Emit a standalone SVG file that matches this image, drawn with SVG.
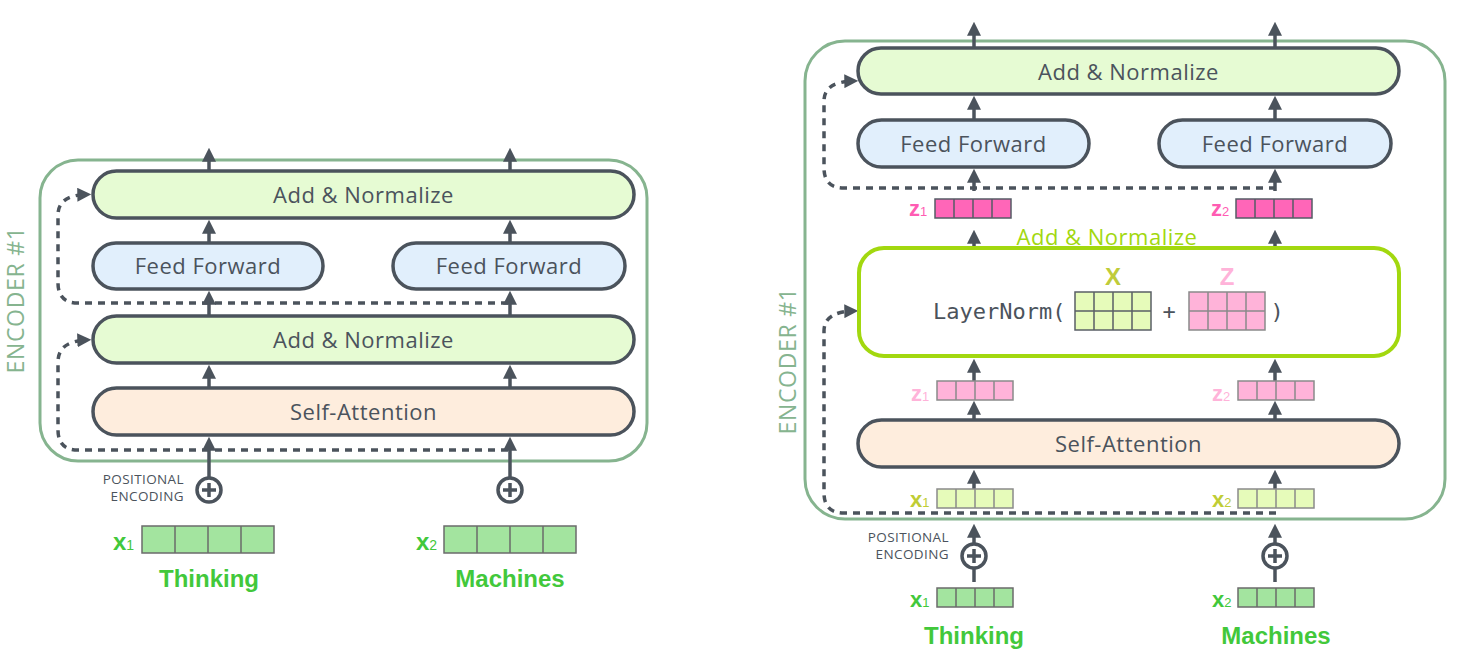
<svg xmlns="http://www.w3.org/2000/svg" width="1472" height="665" viewBox="0 0 1472 665">
  <style>
    .enc { fill: none; stroke: #86b48f; stroke-width: 3; }
    .enc-label { font-family: "Open Sans", "DejaVu Sans", sans-serif; font-size: 23px; letter-spacing: 0.7px; fill: #86b48f; text-anchor: middle; }
    .box { stroke: #4b535c; stroke-width: 3.5; }
    .an { fill: #e6fbd3; }
    .ff { fill: #e1effc; }
    .sa { fill: #feeddd; }
    .lbl { font-family: "Open Sans", "DejaVu Sans", sans-serif; font-size: 22px; letter-spacing: 0.5px; fill: #4b535c; text-anchor: middle; }
    .pos { font-family: "Open Sans", "DejaVu Sans", sans-serif; font-size: 13.5px; letter-spacing: 0.4px; fill: #4b535c; text-anchor: end; }
    .solid { stroke: #4b535c; stroke-width: 3.5; fill: none; marker-end: url(#head); }
    .dash { stroke: #4b535c; stroke-width: 3.5; fill: none; stroke-dasharray: 7 6; marker-end: url(#head); }
    .plus { fill: #fff; stroke: #4b535c; stroke-width: 3.5; }
    .plus-bar { stroke: #4b535c; stroke-width: 3.5; }
    .word { font-family: "Liberation Sans", Arial, sans-serif; font-weight: bold; font-size: 24px; fill: #42c83b; text-anchor: middle; }
    .var { font-family: "Liberation Sans", Arial, sans-serif; font-weight: bold; }
    .sub { font-weight: normal; }
    .in-vec { fill: #a3e49f; stroke: #6b6b6b; stroke-width: 1.5; }
    .x-vec { fill: #e6fbba; stroke: #8a8a8a; stroke-width: 1.5; }
    .z-vec { fill: #ffb3d9; stroke: #8a8a8a; stroke-width: 1.5; }
    .zh-vec { fill: #ff66b8; stroke: #555c66; stroke-width: 1.5; }
    .x-mat { fill: #e6fbba; stroke: #5a5f66; stroke-width: 1.5; }
    .z-mat { fill: #ffb3d9; stroke: #8a8a8a; stroke-width: 1.5; }
    .ln { fill: #fff; stroke: #a2d80f; stroke-width: 4; }
    .ln-title { fill: #a2d80f; }
    .mono { font-family: "DejaVu Sans Mono", "Liberation Mono", monospace; font-size: 22px; fill: #4b535c; }
  </style>
  <defs>
    <marker id="head" markerUnits="userSpaceOnUse" markerWidth="14" markerHeight="14" viewBox="0 0 13 13" refX="9" refY="6.5" orient="auto">
      <path d="M0,0 L13,6.5 L0,13 z" fill="#4b535c"/>
    </marker>
    <!-- four-cell row vectors and a 2x4 matrix -->
    <g id="vecL">
      <rect x="0" y="0" width="132" height="27"/>
      <path d="M33,0 V27 M66,0 V27 M99,0 V27"/>
    </g>
    <g id="vecS">
      <rect x="0" y="0" width="76" height="19"/>
      <path d="M19,0 V19 M38,0 V19 M57,0 V19"/>
    </g>
    <g id="mat">
      <rect x="0" y="0" width="76" height="38"/>
      <path d="M19,0 V38 M38,0 V38 M57,0 V38 M0,19 H76"/>
    </g>
  </defs>

  <rect width="1472" height="665" fill="#fff"/>

  <!-- ===== Left: encoder overview ===== -->
  <g id="encoder-a">
    <rect class="enc" x="40" y="160" width="607" height="301" rx="38"/>
    <text class="enc-label" transform="translate(24,300) rotate(-90)">ENCODER #1</text>
  </g>

  <g id="connectors-a">
    <!-- residual paths -->
    <path class="dash" d="M508,450 H78 Q58,450 58,430 V362 Q58,341 87,340"/>
    <path class="dash" d="M508,303 H78 Q58,303 58,283 V215 Q58,195 87,194.5"/>
    <!-- token 1 column -->
    <line class="solid" x1="209" y1="478" x2="209" y2="441"/>
    <line class="solid" x1="209" y1="388" x2="209" y2="369"/>
    <line class="solid" x1="209" y1="316" x2="209" y2="295"/>
    <line class="solid" x1="209" y1="243" x2="209" y2="224"/>
    <line class="solid" x1="209" y1="171" x2="209" y2="152"/>
    <!-- token 2 column -->
    <line class="solid" x1="510" y1="478" x2="510" y2="441"/>
    <line class="solid" x1="510" y1="388" x2="510" y2="369"/>
    <line class="solid" x1="510" y1="316" x2="510" y2="295"/>
    <line class="solid" x1="510" y1="243" x2="510" y2="224"/>
    <line class="solid" x1="510" y1="171" x2="510" y2="152"/>
  </g>

  <g id="a-add-norm-2">
    <rect class="box an" x="93" y="171" width="541" height="47" rx="23.5"/>
    <text class="lbl" x="363.5" y="203">Add &amp; Normalize</text>
  </g>
  <g id="a-ffn-1">
    <rect class="box ff" x="93" y="243" width="230" height="46" rx="23"/>
    <text class="lbl" x="208" y="274">Feed Forward</text>
  </g>
  <g id="a-ffn-2">
    <rect class="box ff" x="393" y="243" width="232" height="46" rx="23"/>
    <text class="lbl" x="509" y="274">Feed Forward</text>
  </g>
  <g id="a-add-norm-1">
    <rect class="box an" x="93" y="316" width="541" height="47" rx="23.5"/>
    <text class="lbl" x="363.5" y="348">Add &amp; Normalize</text>
  </g>
  <g id="a-self-attn">
    <rect class="box sa" x="93" y="388" width="541" height="47" rx="23.5"/>
    <text class="lbl" x="363.5" y="420">Self-Attention</text>
  </g>

  <g id="a-posenc-1">
    <text class="pos" x="184" y="484">POSITIONAL</text>
    <text class="pos" x="184" y="501">ENCODING</text>
    <circle class="plus" cx="209" cy="490" r="12"/>
    <path class="plus-bar" d="M202,490 H216 M209,483 V497"/>
  </g>
  <g id="a-posenc-2">
    <circle class="plus" cx="510" cy="490" r="12"/>
    <path class="plus-bar" d="M503,490 H517 M510,483 V497"/>
  </g>

  <g id="a-input-1">
    <text class="var" x="113" y="550" fill="#42c83b" font-size="24">x<tspan class="sub" font-size="14">1</tspan></text>
    <use href="#vecL" x="142" y="526" class="in-vec"/>
    <text class="word" x="209" y="587">Thinking</text>
  </g>
  <g id="a-input-2">
    <text class="var" x="416" y="550" fill="#42c83b" font-size="24">x<tspan class="sub" font-size="14">2</tspan></text>
    <use href="#vecL" x="444" y="526" class="in-vec"/>
    <text class="word" x="510" y="587">Machines</text>
  </g>

  <!-- ===== Right: encoder in detail ===== -->
  <g id="encoder-b">
    <rect class="enc" x="805" y="41" width="640" height="478" rx="40"/>
    <text class="enc-label" transform="translate(796,361) rotate(-90)">ENCODER #1</text>
  </g>

  <g id="connectors-b">
    <path class="dash" d="M1276,513 H844 Q824,513 824,493 V331 Q824,311.5 854,311"/>
    <path class="dash" d="M1276,188 H844 Q824,188 824,168 V101 Q824,81.5 854,81"/>
    <!-- token 1 column -->
    <line class="solid" x1="974" y1="582" x2="974" y2="528"/>
    <line class="solid" x1="974" y1="489" x2="974" y2="474"/>
    <line class="solid" x1="974" y1="420" x2="974" y2="405"/>
    <line class="solid" x1="974" y1="381" x2="974" y2="363"/>
    <line class="solid" x1="974" y1="248" x2="974" y2="234"/>
    <line class="solid" x1="974" y1="191" x2="974" y2="173"/>
    <line class="solid" x1="974" y1="120" x2="974" y2="100"/>
    <line class="solid" x1="974" y1="48" x2="974" y2="26"/>
    <!-- token 2 column -->
    <line class="solid" x1="1275" y1="582" x2="1275" y2="528"/>
    <line class="solid" x1="1275" y1="489" x2="1275" y2="474"/>
    <line class="solid" x1="1275" y1="420" x2="1275" y2="405"/>
    <line class="solid" x1="1275" y1="381" x2="1275" y2="363"/>
    <line class="solid" x1="1275" y1="248" x2="1275" y2="234"/>
    <line class="solid" x1="1275" y1="191" x2="1275" y2="173"/>
    <line class="solid" x1="1275" y1="120" x2="1275" y2="100"/>
    <line class="solid" x1="1275" y1="48" x2="1275" y2="26"/>
  </g>

  <g id="b-add-norm-2">
    <rect class="box an" x="858" y="48" width="541" height="46" rx="23"/>
    <text class="lbl" x="1128.5" y="80">Add &amp; Normalize</text>
  </g>
  <g id="b-ffn-1">
    <rect class="box ff" x="858" y="120" width="231" height="47" rx="23.5"/>
    <text class="lbl" x="973.5" y="152">Feed Forward</text>
  </g>
  <g id="b-ffn-2">
    <rect class="box ff" x="1159" y="120" width="232" height="47" rx="23.5"/>
    <text class="lbl" x="1275" y="152">Feed Forward</text>
  </g>

  <g id="b-z-out">
    <text class="var" x="909" y="216" fill="#ff5cb3" font-size="22">z<tspan class="sub" font-size="13">1</tspan></text>
    <use href="#vecS" x="935" y="199" class="zh-vec"/>
    <text class="var" x="1211" y="216" fill="#ff5cb3" font-size="22">z<tspan class="sub" font-size="13">2</tspan></text>
    <use href="#vecS" x="1236" y="199" class="zh-vec"/>
  </g>

  <g id="b-layernorm">
    <text class="lbl ln-title" x="1107" y="245">Add &amp; Normalize</text>
    <rect class="ln" x="859" y="248" width="540" height="108" rx="25"/>
    <text class="mono" x="933" y="319">LayerNorm(</text>
    <text class="var" x="1113" y="285" fill="#bfcc3a" font-size="24" text-anchor="middle">X</text>
    <use href="#mat" x="1075" y="292" class="x-mat"/>
    <text class="mono" x="1169" y="319" text-anchor="middle">+</text>
    <text class="var" x="1227" y="285" fill="#ffb3d9" font-size="24" text-anchor="middle">Z</text>
    <use href="#mat" x="1189" y="292" class="z-mat"/>
    <text class="mono" x="1277" y="319" text-anchor="middle">)</text>
  </g>

  <g id="b-z-attn">
    <text class="var" x="911" y="401" fill="#ffb3d9" font-size="22">z<tspan class="sub" font-size="13">1</tspan></text>
    <use href="#vecS" x="937" y="381" class="z-vec"/>
    <text class="var" x="1212" y="401" fill="#ffb3d9" font-size="22">z<tspan class="sub" font-size="13">2</tspan></text>
    <use href="#vecS" x="1238" y="381" class="z-vec"/>
  </g>

  <g id="b-self-attn">
    <rect class="box sa" x="858" y="420" width="541" height="47" rx="23.5"/>
    <text class="lbl" x="1128.5" y="452">Self-Attention</text>
  </g>

  <g id="b-x-in">
    <text class="var" x="910" y="507" fill="#bfcd35" font-size="22">x<tspan class="sub" font-size="13">1</tspan></text>
    <use href="#vecS" x="937" y="489" class="x-vec"/>
    <text class="var" x="1212" y="507" fill="#bfcd35" font-size="22">x<tspan class="sub" font-size="13">2</tspan></text>
    <use href="#vecS" x="1238" y="489" class="x-vec"/>
  </g>

  <g id="b-posenc-1">
    <text class="pos" x="949" y="542">POSITIONAL</text>
    <text class="pos" x="949" y="559">ENCODING</text>
    <circle class="plus" cx="974" cy="556" r="12"/>
    <path class="plus-bar" d="M967,556 H981 M974,549 V563"/>
  </g>
  <g id="b-posenc-2">
    <circle class="plus" cx="1275" cy="556" r="12"/>
    <path class="plus-bar" d="M1268,556 H1282 M1275,549 V563"/>
  </g>

  <g id="b-input-1">
    <text class="var" x="910" y="607" fill="#42c83b" font-size="22">x<tspan class="sub" font-size="13">1</tspan></text>
    <use href="#vecS" x="937" y="588" class="in-vec"/>
    <text class="word" x="974" y="644">Thinking</text>
  </g>
  <g id="b-input-2">
    <text class="var" x="1212" y="607" fill="#42c83b" font-size="22">x<tspan class="sub" font-size="13">2</tspan></text>
    <use href="#vecS" x="1238" y="588" class="in-vec"/>
    <text class="word" x="1276" y="644">Machines</text>
  </g>
</svg>
